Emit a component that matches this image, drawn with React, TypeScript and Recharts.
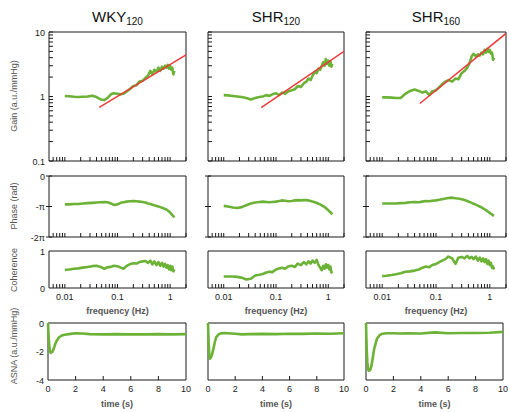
import React from "react";
import { LineChart, Line, XAxis, YAxis, ReferenceArea } from "recharts";

// frequency samples (Hz) shared by gain / phase / coherence curves
const freq = [
  0.01, 0.012, 0.015, 0.018, 0.022, 0.027, 0.033, 0.04, 0.048, 0.056, 0.065,
  0.075, 0.085, 0.1, 0.115, 0.13, 0.15, 0.17, 0.2, 0.23, 0.26, 0.3, 0.34, 0.38,
  0.42, 0.46, 0.5, 0.55, 0.6, 0.65, 0.7, 0.75, 0.8, 0.85, 0.9, 0.95, 1.0, 1.05,
  1.1, 1.15, 1.2,
];

const gainWky = [
  1.02, 1.01, 0.99, 0.98, 0.99, 1.0, 1.03, 0.98, 0.9, 0.88, 0.95, 1.08, 1.12,
  1.1, 1.08, 1.1, 1.2, 1.3, 1.45, 1.5, 1.7, 1.75, 1.95, 2.1, 2.5, 2.2, 2.6, 2.4,
  2.8, 2.5, 2.9, 2.7, 3.0, 2.8, 3.1, 2.7, 3.0, 2.6, 2.8, 2.2, 2.5,
];
const gainShr120 = [
  1.05, 1.04, 1.02, 1.0, 0.98, 0.95, 0.9, 0.95, 0.98, 1.0, 1.05, 1.02, 1.08,
  1.12, 1.05, 1.15, 1.1, 1.2, 1.25, 1.3, 1.45, 1.4, 1.6, 1.7, 1.9, 1.8, 2.1, 2.4,
  2.3, 2.7, 2.6, 3.0, 3.4, 3.0, 3.8, 3.2, 3.6, 3.0, 3.5, 2.9, 3.2,
];
const gainShr160 = [
  0.97, 0.97, 0.96, 0.95, 0.95, 1.1, 1.22, 1.28, 1.22, 1.15, 1.2, 1.05, 1.2,
  1.25, 1.4, 1.55, 1.7, 1.8, 1.7, 1.9, 1.85, 2.3, 2.5, 2.8, 3.3, 4.2, 4.6, 4.2,
  4.5, 4.3, 4.8, 4.5, 5.3, 4.8, 5.5, 4.9, 5.3, 4.6, 4.8, 3.7, 4.0,
];

// fitted regression lines (two end points each)
const fitFreqWky = [0.045, 2];
const fitWky = [0.68, 4.4];
const fitFreqShr120 = [0.052, 2];
const fitShr120 = [0.67, 5.0];
const fitFreqShr160 = [0.05, 2];
const fitShr160 = [0.78, 9.5];

// phase, in units of pi rad
const phaseWky = [
  -0.93, -0.93, -0.92, -0.92, -0.9, -0.89, -0.88, -0.87, -0.86, -0.85, -0.86,
  -0.9, -0.95, -0.93, -0.88, -0.86, -0.84, -0.83, -0.82, -0.83, -0.84, -0.85,
  -0.87, -0.9, -0.92, -0.94, -0.96, -0.98, -1.0, -1.02, -1.04, -1.06, -1.08,
  -1.1, -1.13, -1.16, -1.2, -1.24, -1.28, -1.32, -1.36,
];
const phaseShr120 = [
  -0.98, -1.0, -1.03, -1.05, -1.02, -0.96, -0.9, -0.87, -0.85, -0.84, -0.85,
  -0.86, -0.85, -0.84, -0.82, -0.8, -0.81, -0.83, -0.82, -0.8, -0.79, -0.8,
  -0.79, -0.79, -0.8, -0.82, -0.84, -0.86, -0.88, -0.91, -0.93, -0.96, -0.99,
  -1.02, -1.05, -1.09, -1.12, -1.16, -1.19, -1.22, -1.26,
];
const phaseShr160 = [
  -0.9, -0.9, -0.9, -0.9, -0.89, -0.88, -0.86, -0.85, -0.86, -0.84, -0.82,
  -0.83, -0.81, -0.8, -0.78, -0.76, -0.74, -0.72, -0.71, -0.73, -0.74, -0.76,
  -0.79, -0.82, -0.85, -0.88, -0.91, -0.94, -0.97, -1.0, -1.03, -1.06, -1.09,
  -1.12, -1.15, -1.18, -1.21, -1.24, -1.26, -1.29, -1.31,
];

const cohWky = [
  0.49, 0.5, 0.52, 0.53, 0.55, 0.57, 0.59, 0.6, 0.57, 0.52, 0.56, 0.57, 0.6,
  0.59, 0.55, 0.52, 0.6, 0.64, 0.67, 0.66, 0.7, 0.72, 0.73, 0.68, 0.74, 0.64,
  0.72, 0.62, 0.7, 0.6, 0.68, 0.58, 0.65, 0.55, 0.62, 0.5, 0.6, 0.48, 0.58,
  0.45, 0.5,
];
const cohShr120 = [
  0.31, 0.31, 0.31, 0.3, 0.28, 0.23, 0.25, 0.34, 0.36, 0.38, 0.42, 0.44, 0.43,
  0.5, 0.53, 0.55, 0.52, 0.58, 0.6, 0.57, 0.66, 0.62, 0.7, 0.64, 0.72, 0.66,
  0.74, 0.68, 0.76, 0.62, 0.55, 0.48, 0.6, 0.52, 0.64, 0.55, 0.62, 0.5, 0.58,
  0.42, 0.45,
];
const cohShr160 = [
  0.32, 0.33, 0.35, 0.37, 0.4, 0.44, 0.45, 0.47, 0.5, 0.55, 0.58, 0.56, 0.62,
  0.65, 0.7, 0.74, 0.78, 0.85, 0.8, 0.65, 0.82, 0.84, 0.8, 0.87, 0.8, 0.84,
  0.78, 0.85, 0.74, 0.82, 0.72, 0.8, 0.7, 0.78, 0.65, 0.74, 0.62, 0.68, 0.55,
  0.58, 0.5,
];

// impulse response, time in s
const time = [
  0, 0.05, 0.1, 0.15, 0.2, 0.3, 0.4, 0.5, 0.6, 0.8, 1.0, 1.2, 1.5, 2, 2.5, 3, 4,
  5, 6, 7, 8, 9, 10,
];
const asnaWky = [
  0, -1.0, -1.7, -2.0, -2.1, -2.05, -1.85, -1.55, -1.3, -1.0, -0.88, -0.82,
  -0.78, -0.72, -0.74, -0.78, -0.8, -0.78, -0.8, -0.8, -0.78, -0.8, -0.78,
];
const asnaShr120 = [
  0, -1.5, -2.3, -2.5, -2.45, -2.2, -1.8, -1.35, -1.0, -0.78, -0.72, -0.7,
  -0.72, -0.75, -0.8, -0.78, -0.76, -0.78, -0.75, -0.76, -0.74, -0.75, -0.72,
];
const asnaShr160 = [
  0, -1.8, -2.8, -3.2, -3.35, -3.3, -3.0, -2.4, -1.8, -1.1, -0.85, -0.75,
  -0.72, -0.72, -0.74, -0.72, -0.74, -0.66, -0.72, -0.7, -0.7, -0.68, -0.62,
];

const titles = ["WKY", "SHR", "SHR"];
const titleSubs = ["120", "120", "160"];

const freqTicks = [
  0.006, 0.007, 0.008, 0.009, 0.01, 0.02, 0.03, 0.04, 0.05, 0.06, 0.07, 0.08,
  0.09, 0.1, 0.2, 0.3, 0.4, 0.5, 0.6, 0.7, 0.8, 0.9, 1, 2,
];
const freqLabels: Record<number, string> = { 0.01: "0.01", 0.1: "0.1", 1: "1" };
const gainTicks = [
  0.1, 0.2, 0.3, 0.4, 0.5, 0.6, 0.7, 0.8, 0.9, 1, 2, 3, 4, 5, 6, 7, 8, 9, 10,
];
const gainLabels: Record<number, string> = { 0.1: "0.1", 1: "1", 10: "10" };
const phaseTicks = [-2, -1, 0];
const phaseLabels: Record<number, string> = { "-2": "-2π", "-1": "-π", 0: "0" };
const timeTicks = [0, 2, 4, 6, 8, 10];
const asnaTicks = [-4, -2, 0];

const cols = [
  { left: 49, width: 137 },
  { left: 208, width: 136 },
  { left: 366, width: 140 },
];
// impulse-response panels are a touch narrower in the last column
const asnaCols = [
  { left: 48, width: 138 },
  { left: 208, width: 136 },
  { left: 366, width: 137 },
];
const rows = {
  gain: { top: 32, height: 129 },
  phase: { top: 176, height: 61 },
  coh: { top: 251, height: 37 },
  asna: { top: 323, height: 57 },
};

const GREEN = "#6bb236";
const RED = "#ec3b3b";
const INK = "#1a1a1a";
const FONT = "'Liberation Sans', Arial, sans-serif";
const YW = 45;
const PAD = 5;
const XH = 25;

const toRows = (xs: number[], ys: number[], key: string) =>
  xs.map((x, i) => ({ [key]: x, v: ys[i] }));

const bottomTick = (labels: Record<number, string> | null, inner: (v: number) => boolean) =>
  (props: any) => {
    const { x, y, payload } = props;
    const label = labels ? labels[payload.value] : undefined;
    return (
      <g>
        {inner(payload.value) && <line x1={x} x2={x} y1={y} y2={y - 4} stroke={INK} strokeWidth={1} />}
        {label !== undefined && (
          <text x={x} y={y + 12} textAnchor="middle" fontSize={9} fill={INK} fontFamily={FONT}>
            {label}
          </text>
        )}
      </g>
    );
  };

const leftTick = (labels: Record<number, string> | null, mark: "in" | "cross" | "none") =>
  (props: any) => {
    const { x, y, payload } = props;
    const label = labels ? labels[payload.value] : undefined;
    return (
      <g>
        {mark === "in" && <line x1={x} x2={x + 4} y1={y} y2={y} stroke={INK} strokeWidth={1} />}
        {mark === "cross" && <line x1={x - 3} x2={x + 3} y1={y} y2={y} stroke={INK} strokeWidth={1} />}
        {label !== undefined && (
          <text x={x - 4} y={y + 3.5} textAnchor="end" fontSize={9} fill={INK} fontFamily={FONT}>
            {label}
          </text>
        )}
      </g>
    );
  };

const Panel = ({
  box,
  row,
  children,
}: {
  box: { left: number; width: number };
  row: { top: number; height: number };
  children: React.ReactNode;
}) => (
  <div style={{ position: "absolute", left: box.left - YW, top: row.top - PAD }}>
    <LineChart
      width={box.width + YW + PAD}
      height={row.height + PAD + XH}
      margin={{ top: PAD, right: PAD, left: 0, bottom: 0 }}
    >
      {children}
    </LineChart>
  </div>
);

const freqAxis = (labels: boolean) => (
  <XAxis
    dataKey="f"
    type="number"
    scale="log"
    domain={[0.005, 2]}
    allowDataOverflow
    ticks={freqTicks}
    interval={0}
    tick={bottomTick(labels ? freqLabels : null, () => true)}
    tickLine={false}
    axisLine={false}
    tickSize={0}
    tickMargin={0}
    height={XH}
  />
);

const greenLine = (data: any[]) => (
  <Line
    data={data}
    dataKey="v"
    stroke={GREEN}
    strokeWidth={2.6}
    strokeLinejoin="round"
    dot={false}
    isAnimationActive={false}
    type="linear"
  />
);

const gainSeries = [gainWky, gainShr120, gainShr160];
const fitFreqs = [fitFreqWky, fitFreqShr120, fitFreqShr160];
const fitSeries = [fitWky, fitShr120, fitShr160];
const phaseSeries = [phaseWky, phaseShr120, phaseShr160];
const cohSeries = [cohWky, cohShr120, cohShr160];
const asnaSeries = [asnaWky, asnaShr120, asnaShr160];

const VLabel = ({ text, cx, cy }: { text: string; cx: number; cy: number }) => (
  <div
    style={{
      position: "absolute",
      left: cx,
      top: cy,
      transform: "translate(-50%, -50%) rotate(-90deg)",
      whiteSpace: "nowrap",
      fontSize: 9,
      color: "#555",
      fontFamily: FONT,
    }}
  >
    {text}
  </div>
);

const HLabel = ({ text, cx, cy }: { text: string; cx: number; cy: number }) => (
  <div
    style={{
      position: "absolute",
      left: cx,
      top: cy,
      transform: "translate(-50%, -50%)",
      whiteSpace: "nowrap",
      fontSize: 9,
      fontWeight: "bold",
      color: "#555",
      fontFamily: FONT,
    }}
  >
    {text}
  </div>
);

export default function App() {
  return (
    <div
      style={{
        position: "absolute",
        left: 0,
        top: 0,
        width: 509,
        height: 412,
        background: "#fff",
        fontFamily: FONT,
      }}
    >
      {cols.map((c, i) => (
        <div
          key={"t" + i}
          style={{
            position: "absolute",
            left: c.left + c.width / 2,
            top: 17,
            transform: "translate(-50%, -50%)",
            fontSize: 15,
            color: "#111",
            whiteSpace: "nowrap",
          }}
        >
          {titles[i]}
          <sub style={{ fontSize: 10, verticalAlign: "-3px" }}>{titleSubs[i]}</sub>
        </div>
      ))}

      {cols.map((c, i) => (
        <React.Fragment key={"p" + i}>
          {/* gain */}
          <Panel box={c} row={rows.gain}>
            {freqAxis(false)}
            <YAxis
              type="number"
              scale="log"
              domain={[0.1, 10]}
              allowDataOverflow
              ticks={gainTicks}
              interval={0}
              tick={leftTick(i === 0 ? gainLabels : null, "in")}
              tickLine={false}
              axisLine={false}
              tickSize={0}
              tickMargin={0}
              width={YW}
            />
            <ReferenceArea x1={0.005} x2={2} y1={0.1} y2={10} fill="none" stroke={INK} ifOverflow="visible" />
            {greenLine(toRows(freq, gainSeries[i], "f"))}
            <Line
              data={toRows(fitFreqs[i], fitSeries[i], "f")}
              dataKey="v"
              stroke={RED}
              strokeWidth={1.5}
              dot={false}
              isAnimationActive={false}
            />
          </Panel>

          {/* phase */}
          <Panel box={c} row={rows.phase}>
            {freqAxis(false)}
            <YAxis
              type="number"
              domain={[-2, 0]}
              ticks={phaseTicks}
              interval={0}
              tick={leftTick(i === 0 ? phaseLabels : null, "cross")}
              tickLine={false}
              axisLine={false}
              tickSize={0}
              tickMargin={0}
              width={YW}
            />
            <ReferenceArea x1={0.005} x2={2} y1={-2} y2={0} fill="none" stroke={INK} ifOverflow="visible" />
            {greenLine(toRows(freq, phaseSeries[i], "f"))}
          </Panel>

          {/* coherence */}
          <Panel box={c} row={rows.coh}>
            {freqAxis(true)}
            <YAxis
              type="number"
              domain={[0, 1]}
              ticks={[0, 1]}
              interval={0}
              tick={leftTick(i === 0 ? { 0: "0", 1: "1" } : null, "none")}
              tickLine={false}
              axisLine={false}
              tickSize={0}
              tickMargin={0}
              width={YW}
            />
            <ReferenceArea x1={0.005} x2={2} y1={0} y2={1} fill="none" stroke={INK} ifOverflow="visible" />
            {greenLine(toRows(freq, cohSeries[i], "f"))}
          </Panel>

          {/* impulse response */}
          <Panel box={asnaCols[i]} row={rows.asna}>
            <XAxis
              dataKey="t"
              type="number"
              domain={[0, 10]}
              ticks={timeTicks}
              interval={0}
              tick={bottomTick({ 0: "0", 2: "2", 4: "4", 6: "6", 8: "8", 10: "10" }, (v) => v > 0 && v < 10)}
              tickLine={false}
              axisLine={false}
              tickSize={0}
              tickMargin={0}
              height={XH}
            />
            <YAxis
              type="number"
              domain={[-4, 0]}
              ticks={asnaTicks}
              interval={0}
              tick={leftTick(i === 0 ? { "-4": "-4", "-2": "-2", 0: "0" } : null, "none")}
              tickLine={false}
              axisLine={false}
              tickSize={0}
              tickMargin={0}
              width={YW}
            />
            <ReferenceArea x1={0} x2={10} y1={-4} y2={0} fill="none" stroke={INK} ifOverflow="visible" />
            {greenLine(toRows(time, asnaSeries[i], "t"))}
          </Panel>

          <HLabel text="frequency (Hz)" cx={c.left + c.width / 2} cy={311} />
          <HLabel text="time (s)" cx={asnaCols[i].left + asnaCols[i].width / 2} cy={404} />
        </React.Fragment>
      ))}

      <VLabel text="Gain (a.u./mmHg)" cx={14} cy={96} />
      <VLabel text="Phase (rad)" cx={14} cy={206} />
      <VLabel text="Coherence" cx={14} cy={270} />
      <VLabel text="ASNA (a.u./mmHg)" cx={14} cy={346} />
    </div>
  );
}
